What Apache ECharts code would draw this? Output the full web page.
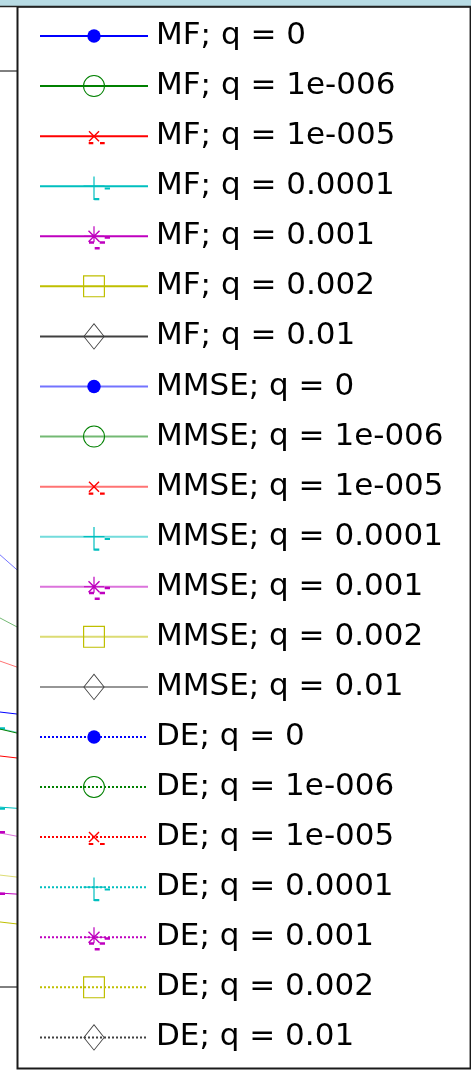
<!DOCTYPE html>
<html>
<head>
<meta charset="utf-8">
<script src="https://cdn.jsdelivr.net/npm/echarts@6/dist/echarts.min.js"></script>
<style>
  html, body { margin: 0; padding: 0; background: #fff; }
  #chart { width: 471px; height: 1074px; }
</style>
</head>
<body>
<div id="chart"></div>
<script>
// Detector comparison: MF / MMSE / DE for several values of q
const methods = ['MF', 'MMSE', 'DE'];
const qLabels = ['0', '1e-006', '1e-005', '0.0001', '0.001', '0.002', '0.01'];
const snrPoints = [10, 15];

const mfValues = [
  [7.54, 7.22],
  [7.11, 6.47],
  [6.34, 6.02],
  [4.93, 4.74],
  [2.58, 2.42],
  [1.81, 1.49],
  []
];
const mmseValues = [
  [12.06, 9.65],
  [10.23, 8.79],
  [9.00, 8.04],
  [7.12, 6.52],
  [4.26, 3.74],
  [3.09, 2.77],
  []
];
const deValues = [[], [], [], [], [], [], []];

// classic colour order: b, g, r, c, m, y, k
const qColors = ['#0000ff', '#008000', '#ff0000', '#00bfbf', '#bf00bf', '#bfbf00', '#404040'];

// marker outlines, drawn in a 36x36 box centred on the point
const BOX = 'M-18 -18 M18 18 ';
const markerPaths = [
  // point
  BOX + 'M-6.7 0 A6.7 6.7 0 1 1 6.7 0 A6.7 6.7 0 1 1 -6.7 0 Z',
  // circle
  BOX + 'M-11 0 A11 11 0 1 1 11 0 A11 11 0 1 1 -11 0 Z M-10 0 A10 10 0 1 0 10 0 A10 10 0 1 0 -10 0 Z',
  // cross
  BOX + 'M-5.5 -4.5 L-4.5 -5.5 L5.5 4.5 L4.5 5.5 Z M4.5 -5.5 L5.5 -4.5 L-4.5 5.5 L-5.5 4.5 Z ' +
        'M-5.3 5.8 L-0.7 5.8 L-0.7 8 L-5.3 8 Z M6 5.8 L10.7 5.8 L10.7 8 L6 8 Z',
  // plus
  BOX + 'M-0.6 -9.7 L0.6 -9.7 L0.6 13.7 L-0.6 13.7 Z M-10.5 -0.6 L10.5 -0.6 L10.5 0.6 L-10.5 0.6 Z ' +
        'M0.3 11.9 L5.3 11.9 L5.3 14 L0.3 14 Z M10.7 1.2 L16 1.2 L16 3.4 L10.7 3.4 Z',
  // star
  BOX + 'M-0.6 -10 L0.6 -10 L0.6 6 L-0.6 6 Z M-10 -0.6 L10 -0.6 L10 0.6 L-10 0.6 Z ' +
        'M-6 -5 L-5 -6 L6 5 L5 6 Z M5 -6 L6 -5 L-5 6 L-6 5 Z ' +
        'M10.7 0.1 L16 0.1 L16 2.5 L10.7 2.5 Z M-5 5 L0 5 L0 7.5 L-5 7.5 Z ' +
        'M5.7 5 L11 5 L11 7.5 L5.7 7.5 Z M0.7 10.7 L5.7 10.7 L5.7 13.3 L0.7 13.3 Z',
  // square
  BOX + 'M-11 -11 L11 -11 L11 11 L-11 11 Z M-9.8 -9.8 L-9.8 9.8 L9.8 9.8 L9.8 -9.8 Z',
  // diamond
  BOX + 'M0 -13.3 L10.7 0 L0 13.3 L-10.7 0 Z M0 -12 L-9.6 0 L0 12 L9.6 0 Z'
];

const methodValues = [mfValues, mmseValues, deValues];
const methodLine = [
  { type: 'solid', width: 1, opacity: 1 },
  { type: 'solid', width: 1, opacity: 0.55 },
  { type: 'dotted', width: 1, opacity: 1 }
];
const methodZ = [3, 2, 4];

const series = [];
const legendNames = [];
methods.forEach((m, mi) => {
  qLabels.forEach((q, qi) => {
    const name = m + '; q = ' + q;
    legendNames.push(name);
    const vals = methodValues[mi][qi];
    series.push({
      name: name,
      type: 'line',
      z: methodZ[mi],
      data: vals.map((v, i) => [snrPoints[i], v]),
      color: qColors[qi],
      symbol: 'path://' + markerPaths[qi],
      symbolSize: 36,
      showSymbol: true,
      lineStyle: Object.assign({ color: qColors[qi] }, methodLine[mi]),
      itemStyle: { color: qColors[qi], borderWidth: 0 },
      emphasis: { disabled: true },
      animation: false
    });
  });
});

const chart = echarts.init(document.getElementById('chart'), null, { renderer: 'canvas' });
chart.setOption({
  animation: false,
  backgroundColor: '#ffffff',
  grid: {
    left: -211,
    right: 182,
    top: 71,
    bottom: 87,
    show: true,
    backgroundColor: 'transparent',
    borderColor: '#000',
    borderWidth: 1,
    containLabel: false,
    outerBoundsMode: 'none'
  },
  xAxis: {
    type: 'value',
    min: 0,
    max: 25,
    interval: 5,
    axisLine: { show: false },
    axisTick: { show: false },
    axisLabel: { show: false },
    splitLine: { show: false }
  },
  yAxis: {
    type: 'value',
    min: 0,
    max: 25,
    interval: 5,
    axisLine: { show: false },
    axisTick: { show: false },
    axisLabel: { show: false },
    splitLine: { show: false }
  },
  legend: {
    orient: 'vertical',
    left: 17.5,
    top: 6.7,
    itemWidth: 108,
    itemHeight: 45,
    itemGap: 14.07,
    padding: [11.3, 27, 13, 21.5],
    backgroundColor: '#ffffff',
    borderColor: '#1a1a1a',
    borderWidth: 2,
    selectedMode: false,
    itemStyle: { borderWidth: 0 },
    textStyle: {
      fontFamily: 'DejaVu Sans',
      fontSize: 31,
      color: '#000',
      padding: [0, 0, 0, 3]
    },
    data: legendNames
  },
  graphic: [
    {
      type: 'rect',
      z: 10,
      shape: { x: 0, y: 0, width: 471, height: 6 },
      style: { fill: '#b7dbe4' }
    },
    {
      type: 'line',
      z: 10,
      shape: { x1: 0, y1: 6.5, x2: 471, y2: 6.5 },
      style: { stroke: '#222', lineWidth: 1.5 }
    }
  ],
  series: series
});
</script>
</body>
</html>
